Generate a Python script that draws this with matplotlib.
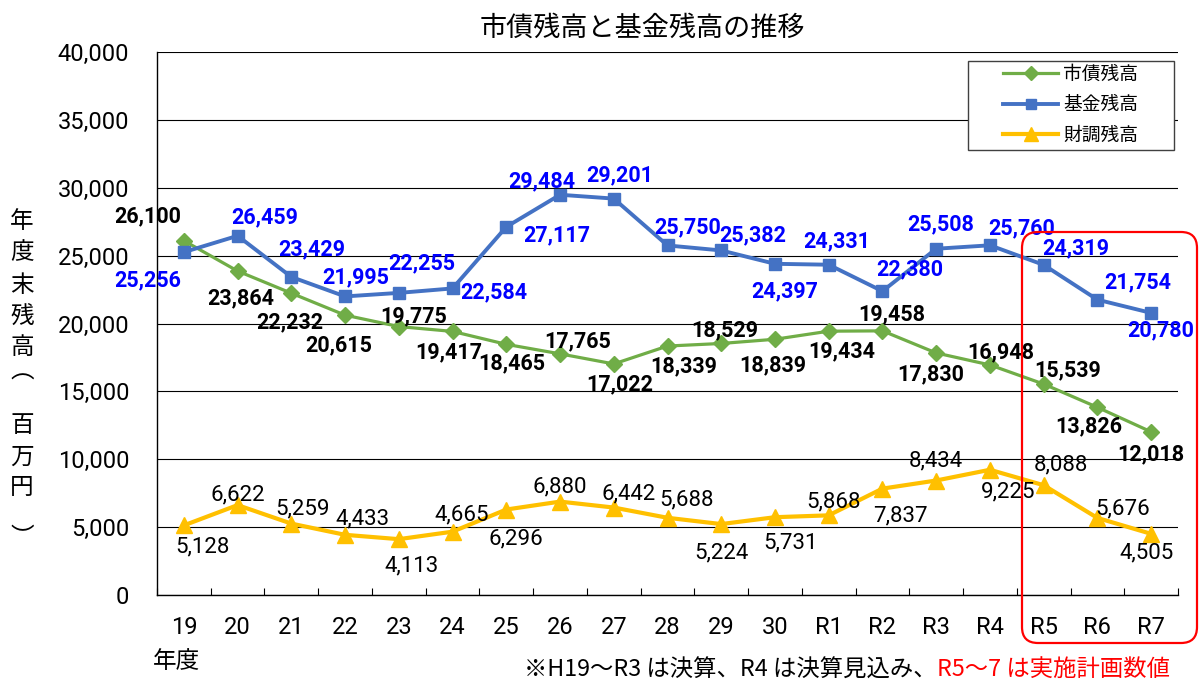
import numpy as np
import matplotlib
matplotlib.use("Agg")
import matplotlib.pyplot as plt
from matplotlib.patches import FancyBboxPatch, Rectangle
from matplotlib.lines import Line2D
from matplotlib.transforms import IdentityTransform

plt.rcParams['font.family'] = ['Roboto', 'Noto Sans CJK JP', 'DejaVu Sans']

# ---------------- data ----------------
years = ["19", "20", "21", "22", "23", "24", "25", "26", "27", "28", "29", "30",
         "R1", "R2", "R3", "R4", "R5", "R6", "R7"]
debt = [26100, 23864, 22232, 20615, 19775, 19417, 18465, 17765, 17022, 18339,
        18529, 18839, 19434, 19458, 17830, 16948, 15539, 13826, 12018]
fund = [25256, 26459, 23429, 21995, 22255, 22584, 27117, 29484, 29201, 25750,
        25382, 24397, 24331, 22380, 25508, 25760, 24319, 21754, 20780]
reserve = [5128, 6622, 5259, 4433, 4113, 4665, 6296, 6880, 6442, 5688,
           5224, 5731, 5868, 7837, 8434, 9225, 8088, 5676, 4505]
series_names = ["市債残高", "基金残高", "財調残高"]
yticks = [0, 5000, 10000, 15000, 20000, 25000, 30000, 35000, 40000]
ytick_labels = [f"{v:,}" for v in yticks]

# label offsets (pixels, right / down) -- styling only
off_debt = [(-36, -24), (3, 27), (-2, 29), (-6, 30), (15, -10), (-4, 21), (5, 19),
            (18, -12), (6, 20), (16, 20), (4, -13), (-2, 26), (13, 20), (9, -17),
            (-5, 21), (11, -13), (24, -14), (-9, 19), (0, 22)]
off_fund = [(-36, 28), (27, -18), (20, -28), (11, -19), (23, -30), (41, 4), (50, 8),
            (-18, -13), (6, -23), (20, -18), (32, -15), (10, 28), (8, -23), (27, -22),
            (5, -24), (32, -17), (32, -17), (40, -17), (10, 17)]
off_res = [(19, 22), (0, -10), (11, -15), (17, -16), (13, 27), (9, -17), (10, 29),
           (0, -15), (15, -14), (19, -18), (0, 29), (16, 26), (5, -13), (18, 27),
           (0, -20), (18, 22), (17, -20), (25, -9), (-5, 19)]

C_GREEN = "#70AD47"
C_BLUE = "#4472C4"
C_YELLOW = "#FFC000"

W, H = 1200, 684
fig = plt.figure(figsize=(W / 100, H / 100), dpi=100)
L, R, T, B = 157, 1178, 52, 595
ax = fig.add_axes([L / W, (H - B) / H, (R - L) / W, (B - T) / H])

x = np.arange(len(years))
ax.plot(x, debt, color=C_GREEN, lw=2.3, marker='D', ms=8, zorder=4)
ax.plot(x, fund, color=C_BLUE, lw=2.8, marker='s', ms=8.5, zorder=4)
ax.plot(x, reserve, color=C_YELLOW, lw=3.0, marker='^', ms=12, zorder=4)

ax.set_xlim(-0.5, len(years) - 0.5)
ax.set_ylim(0, 40000)
ax.set_yticks(yticks)
ax.set_yticklabels(ytick_labels)
ax.set_xticks(x)
ax.set_xticklabels(years)
ax.set_xticks(np.arange(-0.5, len(years), 1), minor=True)
ax.tick_params(axis='x', which='major', length=0, pad=15, labelsize=17)
ax.tick_params(axis='x', which='minor', length=5, direction='in', width=0.8)
ax.tick_params(axis='y', length=0, pad=20, labelsize=17)
ax.yaxis.grid(True, color='black', lw=0.8, zorder=1)
ax.set_axisbelow(True)
for s in ['top', 'right']:
    ax.spines[s].set_visible(False)
for s in ['left', 'bottom']:
    ax.spines[s].set_color('black')
    ax.spines[s].set_linewidth(1.0)

PX = 0.72
for i, v in enumerate(debt):
    dx, dy = off_debt[i]
    ax.annotate(f"{v:,}", (x[i], v), xytext=(dx * PX, -dy * PX), textcoords='offset points',
                ha='center', va='center', fontsize=15.5, fontweight='bold', color='black', zorder=6)
for i, v in enumerate(fund):
    dx, dy = off_fund[i]
    ax.annotate(f"{v:,}", (x[i], v), xytext=(dx * PX, -dy * PX), textcoords='offset points',
                ha='center', va='center', fontsize=15.5, fontweight='bold', color='#0000FF', zorder=6)
for i, v in enumerate(reserve):
    dx, dy = off_res[i]
    ax.annotate(f"{v:,}", (x[i], v), xytext=(dx * PX, -dy * PX), textcoords='offset points',
                ha='center', va='center', fontsize=16, color='black', zorder=6)

# legend frame (pixel box) + entries
frame = Rectangle((968, H - 150), 1174 - 968, 150 - 61, transform=IdentityTransform(),
                  facecolor='white', edgecolor='#404040', lw=1.0, zorder=9, clip_on=False)
ax.add_artist(frame)
handles = [Line2D([], [], color=C_GREEN, lw=2.3, marker='D', ms=7),
           Line2D([], [], color=C_BLUE, lw=2.8, marker='s', ms=7.5),
           Line2D([], [], color=C_YELLOW, lw=3.0, marker='^', ms=10)]
leg = ax.legend(handles, series_names, loc='upper left', bbox_to_anchor=(1003 / W, 1 - 64 / H),
                bbox_transform=fig.transFigure, frameon=False,
                handlelength=2.95, labelspacing=0.5, borderpad=0, handletextpad=0.25,
                borderaxespad=0, prop={'family': ['Noto Sans CJK JP'], 'size': 13.5})
leg.set_zorder(10)

# title
fig.text(642 / W, 1 - 28 / H, "市債残高と基金残高の推移", ha='center', va='center', fontsize=19.5,
         family=['Noto Sans CJK JP'])

# y label (vertical stacked characters)
ylabel_chars = [("年", 222), ("度", 253), ("末", 285), ("残", 317), ("高", 348), ("︵", 372),
                ("百", 425), ("万", 457), ("円", 488), ("︶", 538)]
for ch, py in ylabel_chars:
    fig.text(22 / W, 1 - py / H, ch, ha='center', va='center', fontsize=17,
             family=['Noto Sans CJK JP', 'DejaVu Sans'])

# x label
fig.text(176 / W, 1 - 661 / H, "年度", ha='center', va='center', fontsize=17,
         family=['Noto Sans CJK JP'])

# red highlight box
box = FancyBboxPatch((1022, H - 643), 175, 643 - 232, boxstyle="round,pad=0,rounding_size=16",
                     transform=IdentityTransform(), fill=False, edgecolor='#FF0000', lw=1.6, zorder=20)
fig.add_artist(box)

# note
note_red = fig.text(1170 / W, 1 - 670 / H, "R5～7 は実施計画数値", ha='right', va='center',
                    fontsize=16.8, color='#FF0000', family=['Noto Sans CJK JP', 'DejaVu Sans'])
fig.canvas.draw()
bb = note_red.get_window_extent(renderer=fig.canvas.get_renderer())
fig.text(bb.x0 / W, 1 - 670 / H, "※H19～R3 は決算、R4 は決算見込み、", ha='right', va='center',
         fontsize=16.8, color='black', family=['Noto Sans CJK JP', 'DejaVu Sans'])

fig.savefig("out.png", dpi=100)
